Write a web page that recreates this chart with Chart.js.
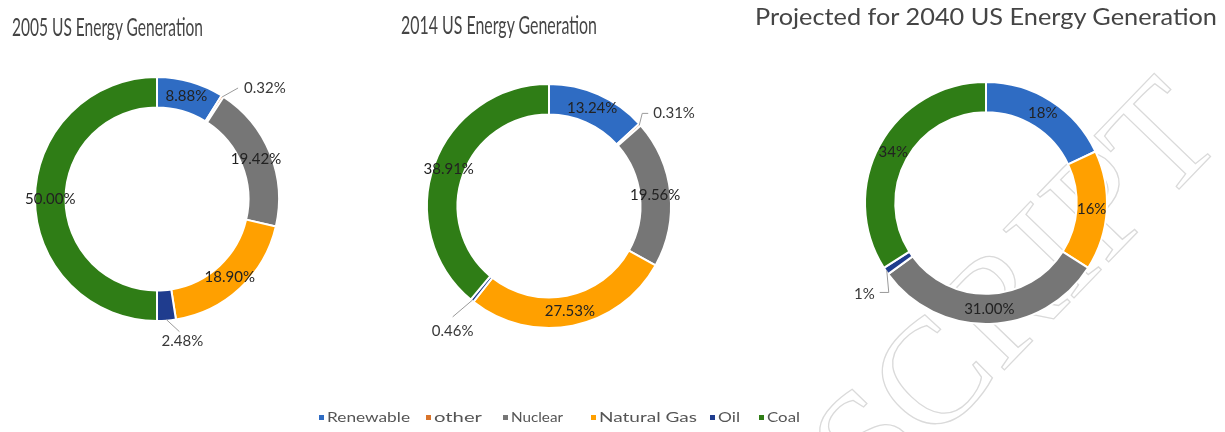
<!DOCTYPE html>
<html>
<head>
<meta charset="utf-8">
<script src="https://cdn.jsdelivr.net/npm/chart.js@4.4.1/dist/chart.umd.min.js"></script>
<style>
  html, body { margin: 0; padding: 0; background: #fff; }
  #page { position: relative; width: 1225px; height: 432px; overflow: hidden; background: #fff; }
  #page canvas { position: absolute; left: 0; top: 0; }
  .title { position: absolute; white-space: nowrap; font-family: Lato, "Open Sans", sans-serif;
           color: #454545; line-height: 1; transform-origin: 0 0; }
  .legend-item { position: absolute; white-space: nowrap; font-family: Lato, "Open Sans", sans-serif;
                 font-size: 14px; line-height: 1; color: #555; transform-origin: 0 50%; }
  .legend-swatch { position: absolute; width: 5px; height: 5px; }
  #wm { position: absolute; white-space: nowrap; font-family: "Liberation Serif", "DejaVu Serif", serif;
        font-size: 150px; line-height: 1; color: transparent; -webkit-text-stroke: 1.3px #dadada; }
</style>
</head>
<body>
<div id="page">
  <div id="wm">ACCEPTED MANUSCRIPT</div>
  <canvas id="c2005" width="1225" height="432"></canvas>
  <canvas id="c2014" width="1225" height="432"></canvas>
  <canvas id="c2040" width="1225" height="432"></canvas>
</div>
<script>
// ---- data ----
const categories = ['Renewable', 'other', 'Nuclear', 'Natural Gas', 'Oil', 'Coal'];
const categoryColors = ['#2F6CC3', '#D9742B', '#767676', '#FFA000', '#1F3C8E', '#2F7D16'];

const order2005 = ['Renewable', 'other', 'Nuclear', 'Natural Gas', 'Oil', 'Coal'];
const share2005 = [8.88, 0.32, 19.42, 18.90, 2.48, 50.00];
const decimals2005 = [2, 2, 2, 2, 2, 2];

const order2014 = ['Renewable', 'other', 'Nuclear', 'Natural Gas', 'Oil', 'Coal'];
const share2014 = [13.24, 0.31, 19.56, 27.53, 0.46, 38.91];
const decimals2014 = [2, 2, 2, 2, 2, 2];

const order2040 = ['Renewable', 'Natural Gas', 'Nuclear', 'Oil', 'Coal'];
const share2040 = [18, 16, 31.00, 1, 34];
const decimals2040 = [0, 0, 2, 0, 0];

const chartTitles = ['2005 US Energy Generation', '2014 US Energy Generation',
                     'Projected for 2040 US Energy Generation'];

// ---- layout ----
const W = 1225, H = 432;
const panels = [
  { id: 'c2005', order: order2005, values: share2005, decimals: decimals2005,
    cx: 157, cy: 199, r: 122,
    title: { left: 12, baseline: 36, width: 191, size: 25 },
    callouts: {
      'other': { dx: 16, dy: -9, tail: 0, tx: 6, ty: 0, align: 'left' },
      'Oil':   { dx: 13, dy: 12, tail: 0, tx: 3, ty: 10, align: 'center' }
    } },
  { id: 'c2014', order: order2014, values: share2014, decimals: decimals2014,
    cx: 549, cy: 206, r: 122,
    title: { left: 401, baseline: 34, width: 196, size: 25 },
    callouts: {
      'other': { dx: 3, dy: -12, tail: 6, tx: 5, ty: 0, align: 'left' },
      'Oil':   { dx: -20, dy: 17, tail: 0, tx: 0, ty: 14, align: 'center' }
    } },
  { id: 'c2040', order: order2040, values: share2040, decimals: decimals2040,
    cx: 986, cy: 203, r: 121,
    title: { left: 755, baseline: 25, width: 462, size: 23 },
    callouts: {
      'Oil':   { dx: 2, dy: 22, tail: -9, tx: -5, ty: 2, align: 'right' }
    } }
];

const legendSlots = [[321, 410], [428, 482], [505, 563], [593, 697], [712, 740], [761, 800]];
const legendY = 417;

const colorOf = {};
categories.forEach((c, i) => { colorOf[c] = categoryColors[i]; });

// Percent labels: centred on the ring, or pulled outside with a leader line.
const sliceLabels = {
  id: 'sliceLabels',
  afterDatasetsDraw(chart, args, opts) {
    const ctx = chart.ctx;
    const meta = chart.getDatasetMeta(0);
    const ds = chart.data.datasets[0];
    meta.data.forEach((arc, i) => {
      const p = arc.getProps(['x', 'y', 'startAngle', 'endAngle', 'innerRadius', 'outerRadius'], true);
      const mid = (p.startAngle + p.endAngle) / 2;
      const text = ds.data[i].toFixed(opts.decimals[i]) + '%';
      const co = opts.callouts[chart.data.labels[i]];
      ctx.save();
      ctx.font = '15px Lato, "Open Sans", sans-serif';
      ctx.fillStyle = '#222';
      ctx.textBaseline = 'middle';
      if (co) {
        const ex = p.x + Math.cos(mid) * (p.outerRadius - 1);
        const ey = p.y + Math.sin(mid) * (p.outerRadius - 1);
        const lx = ex + co.dx, ly = ey + co.dy;
        const tx = lx + co.tail;
        ctx.strokeStyle = '#9a9a9a';
        ctx.lineWidth = 1;
        ctx.beginPath();
        ctx.moveTo(ex, ey);
        ctx.lineTo(lx, ly);
        if (co.tail) ctx.lineTo(tx, ly);
        ctx.stroke();
        ctx.fillStyle = '#383838';
        ctx.textAlign = co.align;
        ctx.fillText(text, tx + co.tx, ly + co.ty);
      } else {
        const rr = (p.innerRadius + p.outerRadius) / 2;
        ctx.textAlign = 'center';
        ctx.fillText(text, p.x + Math.cos(mid) * rr, p.y + Math.sin(mid) * rr);
      }
      ctx.restore();
    });
  }
};

const page = document.getElementById('page');

function buildCharts() {
  panels.forEach(pn => {
    new Chart(document.getElementById(pn.id), {
      type: 'doughnut',
      data: {
        labels: pn.order,
        datasets: [{
          data: pn.values,
          backgroundColor: pn.order.map(c => colorOf[c]),
          borderColor: '#ffffff',
          borderWidth: 2,
          hoverOffset: 0
        }]
      },
      options: {
        responsive: false,
        animation: false,
        events: [],
        cutout: '75%',
        layout: { padding: {
          left: pn.cx - pn.r - 1, right: W - (pn.cx + pn.r + 1),
          top: pn.cy - pn.r - 1, bottom: H - (pn.cy + pn.r + 1) } },
        plugins: {
          legend: { display: false },
          tooltip: { enabled: false },
          sliceLabels: { decimals: pn.decimals, callouts: pn.callouts }
        }
      },
      plugins: [sliceLabels]
    });

    // chart heading
    const t = document.createElement('div');
    t.className = 'title';
    t.textContent = chartTitles[panels.indexOf(pn)];
    t.style.fontSize = pn.title.size + 'px';
    page.appendChild(t);
    const natural = t.getBoundingClientRect().width;
    t.style.left = pn.title.left + 'px';
    t.style.top = (pn.title.baseline - pn.title.size * 0.887) + 'px';
    t.style.transform = 'scaleX(' + (pn.title.width / natural) + ')';
  });

  // shared legend
  categories.forEach((c, i) => {
    const [x0, x1] = legendSlots[i];
    const sw = document.createElement('div');
    sw.className = 'legend-swatch';
    sw.style.background = categoryColors[i];
    sw.style.left = (x0 - 2.5) + 'px';
    sw.style.top = (legendY - 2.5) + 'px';
    page.appendChild(sw);
    const lab = document.createElement('div');
    lab.className = 'legend-item';
    lab.textContent = c;
    page.appendChild(lab);
    const natural = lab.getBoundingClientRect().width;
    const start = x0 + 6;
    lab.style.left = start + 'px';
    lab.style.top = (legendY - 7.5) + 'px';
    lab.style.transform = 'scaleX(' + ((x1 - start) / natural) + ')';
  });

  // diagonal watermark, anchored by the end of its baseline
  const wm = document.getElementById('wm');
  const ww = wm.getBoundingClientRect().width;
  const base = 150 * 0.838;
  const ax = 1226, ay = 140;
  wm.style.left = (ax - ww) + 'px';
  wm.style.top = (ay - base) + 'px';
  wm.style.transformOrigin = ww + 'px ' + base + 'px';
  wm.style.transform = 'rotate(-46deg)';
}

if (document.fonts && document.fonts.ready) {
  document.fonts.ready.then(buildCharts);
} else {
  buildCharts();
}
</script>
</body>
</html>
